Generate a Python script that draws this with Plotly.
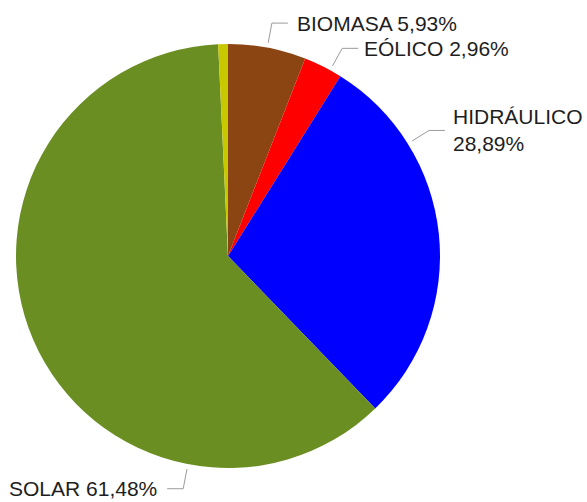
import math

import plotly.graph_objects as go


SOURCES = ["BIOMASA", "EÓLICO", "HIDRÁULICO", "SOLAR", "OTROS"]
SHARES = [5.93, 2.96, 28.89, 61.48, 0.74]
COLORS = ["#8B4513", "#FF0000", "#0000FF", "#6B8E23", "#C8C800"]
SHOW_LABEL = [True, True, True, True, False]

W, H = 587, 502
CX, CY, R = 228, 256, 212  # pie centre / radius in pixels (from top-left)

# where along each slice the leader line leaves it (0 = start, 1 = end)
ANCHOR = [0.5, 0.7, 0.25, 0.248, 0.5]
TEXT_GAP = [7, 4, 6, 8, 0]
LABEL_TEXT = [
    "BIOMASA 5,93%",
    "EÓLICO 2,96%",
    "HIDRÁULICO<br>28,89%",
    "SOLAR 61,48%",
    "",
]


def px_to_paper(x, y):
    return x / W, 1 - y / H


def main() -> None:
    fig = go.Figure(
        go.Pie(
            labels=SOURCES,
            values=SHARES,
            sort=False,
            direction="clockwise",
            rotation=0,
            marker=dict(colors=COLORS, line=dict(width=0)),
            textinfo="none",
            hoverinfo="label+percent",
            showlegend=False,
            domain=dict(
                x=[(CX - R) / W, (CX + R) / W],
                y=[1 - (CY + R) / H, 1 - (CY - R) / H],
            ),
        )
    )

    total = sum(SHARES)
    cum = 0.0
    for i, v in enumerate(SHARES):
        start = cum / total * 360
        end = (cum + v) / total * 360
        cum += v
        if not SHOW_LABEL[i]:
            continue
        ang = math.radians(start + ANCHOR[i] * (end - start))
        sx, sy = math.sin(ang), -math.cos(ang)
        x0, y0 = CX + (R + 5) * sx, CY + (R + 5) * sy
        x1, y1 = CX + (R + 25) * sx, CY + (R + 25) * sy
        side = 1 if sx >= 0 else -1
        x2 = x1 + side * 16
        p0, p1, p2 = px_to_paper(x0, y0), px_to_paper(x1, y1), px_to_paper(x2, y1)
        fig.add_shape(
            type="path",
            xref="paper",
            yref="paper",
            path=f"M {p0[0]},{p0[1]} L {p1[0]},{p1[1]} L {p2[0]},{p2[1]}",
            line=dict(color="#9a9a9a", width=1),
        )
        tx, ty = px_to_paper(x2 + side * TEXT_GAP[i], y1)
        fig.add_annotation(
            text=LABEL_TEXT[i],
            x=tx,
            y=ty,
            xref="paper",
            yref="paper",
            xanchor="left" if side > 0 else "right",
            yanchor="middle",
            align="left",
            showarrow=False,
            font=dict(family="Liberation Sans, Arial, sans-serif", size=21, color="#1e1e1e"),
        )

    fig.update_layout(
        width=W,
        height=H,
        margin=dict(l=0, r=0, t=0, b=0),
        paper_bgcolor="white",
        plot_bgcolor="white",
    )

    # drop the default 8px body margin so the fixed-size figure fills the window
    fig.write_html(
        "out.html",
        config={"displayModeBar": False},
        post_script="document.body.style.margin='0';",
    )


if __name__ == "__main__":
    main()
